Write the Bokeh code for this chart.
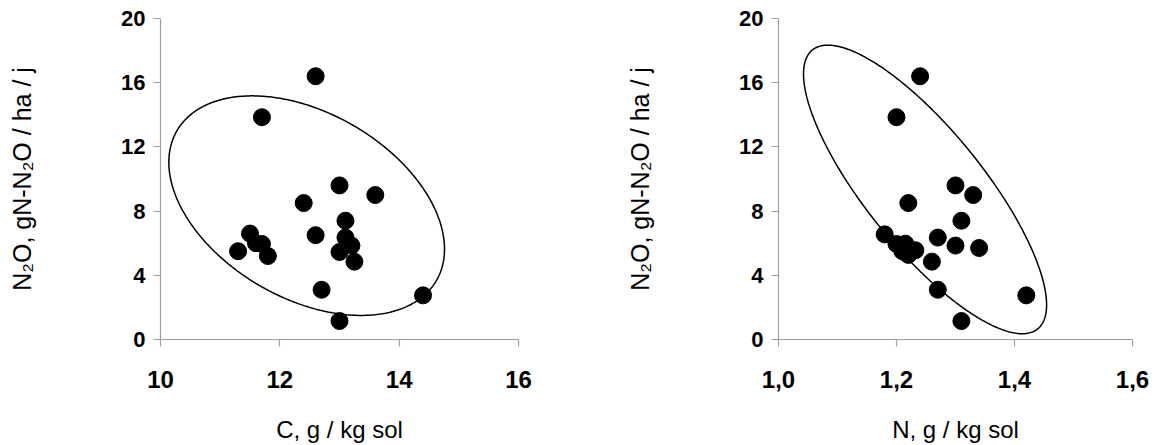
import numpy as np
from bokeh.plotting import figure
from bokeh.layouts import row
from bokeh.models import FixedTicker, CustomJSTickFormatter, Range1d
from bokeh.embed import file_html
from bokeh.resources import INLINE

# ---- data ----
c_values = [12.6, 11.7, 13.0, 13.6, 12.4, 13.1, 11.5, 12.6, 13.1, 11.6,
            11.7, 13.2, 11.3, 13.0, 11.8, 13.25, 12.7, 14.4, 13.0]
n2o_c = [16.4, 13.85, 9.6, 9.0, 8.5, 7.4, 6.6, 6.5, 6.35, 6.0,
         5.95, 5.85, 5.5, 5.45, 5.2, 4.85, 3.1, 2.75, 1.15]

n_values = [1.24, 1.20, 1.30, 1.33, 1.22, 1.31, 1.18, 1.27, 1.30, 1.34,
            1.26, 1.27, 1.42, 1.31, 1.20, 1.215, 1.21, 1.22, 1.232]
n2o_n = [16.4, 13.85, 9.6, 9.0, 8.5, 7.4, 6.55, 6.35, 5.85, 5.7,
         4.85, 3.1, 2.75, 1.15, 5.95, 5.97, 5.5, 5.27, 5.56]

# ellipse parameters (centre x, centre y, half-extent x, half-extent y, phase in degrees)
ellipse_c = (12.45, 8.34, 2.31, 6.84, 113.3)
ellipse_n = (1.2484, 9.35, 0.206, 8.99, 143.1)

x_ticks_c = [10, 12, 14, 16]
x_ticks_n = [1.0, 1.2, 1.4, 1.6]
y_ticks = [0, 4, 8, 12, 16, 20]

y_title = "N\u2082O, gN-N\u2082O / ha / j"
x_title_c = "C, g / kg sol"
x_title_n = "N, g / kg sol"

FONT = "Liberation Sans"
AXIS_COLOR = "#a0a0a0"


def ellipse_curve(cx, cy, rx, ry, phase_deg, n=400):
    t = np.linspace(0, 2 * np.pi, n)
    return cx + rx * np.cos(t), cy + ry * np.cos(t - np.radians(phase_deg))


def make_panel(xs, ys, ell, xr, xticks, xtitle, bl, br, comma=False):
    p = figure(width=578, height=445, x_range=Range1d(*xr), y_range=Range1d(0, 20),
               output_backend="svg", toolbar_location=None,
               min_border_left=bl, min_border_right=br,
               min_border_top=18, min_border_bottom=102)
    p.outline_line_color = None
    p.grid.visible = False
    p.background_fill_color = "white"
    p.border_fill_color = "white"

    ex, ey = ellipse_curve(*ell)
    p.line(ex, ey, line_color="black", line_width=1.5)
    p.scatter(xs, ys, size=17, fill_color="black", line_color="black")

    for ax in (p.xaxis[0], p.yaxis[0]):
        ax.axis_line_color = AXIS_COLOR
        ax.axis_line_width = 1.2
        ax.major_tick_line_color = AXIS_COLOR
        ax.major_tick_line_width = 1.2
        ax.major_tick_in = 0
        ax.major_tick_out = 7
        ax.minor_tick_line_color = None
        ax.major_label_text_font = FONT
        ax.major_label_text_font_style = "bold"
        ax.major_label_text_color = "black"
        ax.axis_label_text_font = FONT
        ax.axis_label_text_font_style = "normal"
        ax.axis_label_text_color = "black"

    p.yaxis.ticker = FixedTicker(ticks=y_ticks)
    p.yaxis.major_label_text_font_size = "22px"
    p.yaxis.major_label_standoff = 8
    p.yaxis.axis_label = y_title
    p.yaxis.axis_label_text_font_size = "25px"
    p.yaxis.axis_label_standoff = 82

    p.xaxis.ticker = FixedTicker(ticks=xticks)
    p.xaxis.major_label_text_font_size = "24px"
    p.xaxis.major_label_standoff = 24
    p.xaxis.axis_label = xtitle
    p.xaxis.axis_label_text_font_size = "24px"
    p.xaxis.axis_label_standoff = 25
    if comma:
        p.xaxis.formatter = CustomJSTickFormatter(
            code="return tick.toFixed(1).replace('.', ',');")
    return p


left = make_panel(c_values, n2o_c, ellipse_c, (10, 16), x_ticks_c, x_title_c, 160, 60)
right = make_panel(n_values, n2o_n, ellipse_n, (1.0, 1.6), x_ticks_n, x_title_n, 200, 24,
                   comma=True)

layout = row(left, right)
open("out.html", "w").write(file_html(layout, INLINE))
